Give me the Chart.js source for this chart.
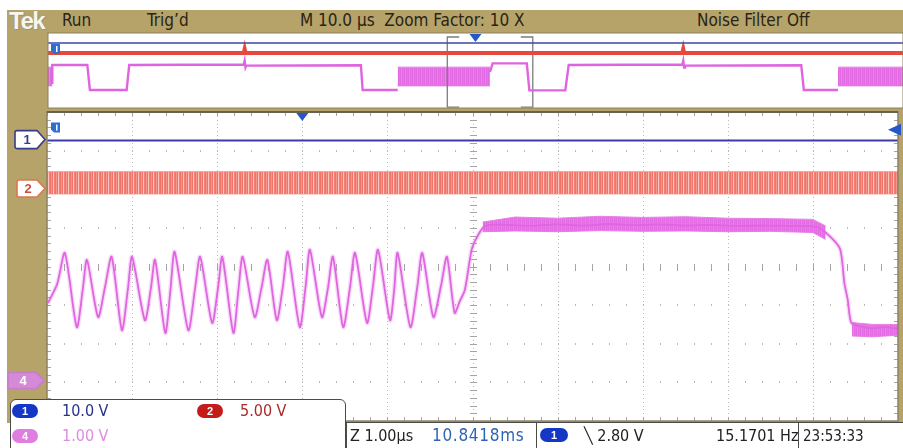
<!DOCTYPE html>
<html>
<head>
<meta charset="utf-8">
<script src="https://cdn.jsdelivr.net/npm/chart.js@4.4.0/dist/chart.umd.min.js"></script>
<style>
  html, body { margin: 0; padding: 0; background: #fff; }
  body { width: 903px; height: 448px; position: relative; overflow: hidden;
         font-family: "Liberation Sans Narrow", "DejaVu Sans Condensed", "Liberation Sans", sans-serif; }
  #frame { position: absolute; left: 7px; top: 10px; right: 0; height: 413px; background: #b5a36a; }
  canvas { position: absolute; left: 0; }
  #main { top: 100px; }
  #overview { top: 28px; }
  .t { position: absolute; white-space: nowrap; font-size: 17px; color: #2a2414; line-height: 1; }
  .f { position: absolute; white-space: nowrap; font-size: 16px; line-height: 1; }
  #tek { position: absolute; left: 9px; top: 7px; font: bold 24px "Liberation Sans", sans-serif;
         color: #f8f5ec; text-shadow: 0 0 1px #888, 1px 1px 0 #a1966e; letter-spacing: -1.5px; }
  .box { position: absolute; background: #fff; border: 1px solid #4a4a4a; box-sizing: border-box; }
  .pill { position: absolute; height: 14px; border-radius: 7px; color: #fff; font: bold 11px "Liberation Sans", sans-serif;
          line-height: 14px; text-align: center; }
</style>
</head>
<body>
<div id="frame"></div>
<div id="tek">Tek</div>
<div class="t" style="left:62px;top:12px">Run</div>
<div class="t" style="left:147px;top:12px">Trig’d</div>
<div class="t" style="left:300px;top:12px">M 10.0 µs&nbsp; Zoom Factor: 10 X</div>
<div class="t" style="left:697px;top:12px">Noise Filter Off</div>

<canvas id="main" width="903" height="325"></canvas>
<canvas id="overview" width="903" height="82"></canvas>

<div class="box" style="left:10px;top:399px;width:336px;height:55px;border-radius:6px 6px 0 0"></div>
<div class="pill" style="left:12px;top:404px;width:26px;background:#1437c6">1</div>
<div class="f" style="left:62px;top:403px;color:#27318a">10.0 V</div>
<div class="pill" style="left:197px;top:404px;width:26px;background:#c41b1b">2</div>
<div class="f" style="left:240px;top:403px;color:#a82a2a">5.00 V</div>
<div class="pill" style="left:12px;top:429px;width:26px;background:#e07de0">4</div>
<div class="f" style="left:62px;top:428px;color:#e08ae0">1.00 V</div>

<div class="box" style="left:346px;top:422px;width:191px;height:30px;border-right:none"></div>
<div class="f" style="left:350px;top:428px;color:#222">Z 1.00µs</div>
<div class="f" style="left:432px;top:427px;color:#2f63b5;font-size:17px;letter-spacing:0.7px">10.8418ms</div>
<div class="box" style="left:536px;top:422px;width:263px;height:30px;border-right:none"></div>
<div class="pill" style="left:540px;top:428px;width:28px;background:#1437c6">1</div>
<div class="f" style="left:584px;top:428px;color:#222">╲ 2.80 V</div>
<div class="f" style="left:716px;top:428px;color:#222">15.1701 Hz</div>
<div class="box" style="left:798px;top:422px;width:110px;height:30px"></div>
<div class="f" style="left:803px;top:429px;color:#222;font-size:15px">23:53:33</div>

<script>
// main window, in divisions (10 x 8)
const ch1Offset = 3.26;
const ch2Offset = 2.02;
const ch4Offset = -2.95;
const trigPos = 3;
const ch1VoltsDiv = 10.0;
const trigLevelV = 2.80;

const ch1X = [0, 10];
const ch1Y = [3.26, 3.26];

const ch2X = [0, 10];
const ch2Top = [2.45, 2.45];
const ch2Bottom = [1.88, 1.88];

const ch4X = [0.01, 0.12, 0.21, 0.35, 0.42, 0.47, 0.60, 0.68, 0.76, 0.88, 0.95, 1.00,
  1.15, 1.22, 1.27, 1.39, 1.45, 1.50, 1.66, 1.74, 1.80, 1.94, 2.01, 2.06, 2.19, 2.25, 2.30,
  2.44, 2.52, 2.59, 2.70, 2.77, 2.83, 2.97, 3.04, 3.09, 3.23, 3.30, 3.36, 3.48, 3.56, 3.62,
  3.76, 3.83, 3.89, 4.03, 4.08, 4.12, 4.27, 4.35, 4.41, 4.54, 4.63, 4.70, 4.79, 4.85, 4.91,
  4.99, 5.06, 5.15, 5.4, 5.7, 6.0, 6.3, 6.6, 6.9, 7.2, 7.5, 7.8, 8.1, 8.4, 8.7, 9.05, 9.20,
  9.32, 9.37, 9.41, 9.45, 9.55, 9.70, 9.85, 10];
const ch4Y = [-0.95, -0.45, 0.35, -1.57, -0.60, 0.17, -1.31, -0.55, 0.25, -1.65, -0.60, 0.25,
  -1.39, -0.58, 0.17, -1.72, -0.62, 0.38, -1.65, -0.57, 0.25, -1.46, -0.55, 0.25, -1.72, -0.60, 0.25,
  -1.31, -0.56, 0.17, -1.39, -0.55, 0.38, -1.57, -0.50, 0.43, -1.31, -0.58, 0.25, -1.57, -0.55, 0.35,
  -1.46, -0.52, 0.43, -1.39, -0.60, 0.35, -1.57, -0.55, 0.35, -1.31, -0.50, 0.25, -1.20, -0.90, -0.61,
  0.43, 0.79, 1.05, 1.08, 1.05, 1.09, 1.06, 1.10, 1.07, 1.09, 1.06, 1.08, 1.05, 1.06, 1.05, 1.02, 0.78,
  0.45, -0.43, -0.87, -1.45, -1.55, -1.60, -1.57, -1.62];

const plateauX = [5.12, 5.5, 6.0, 6.5, 7.0, 7.5, 8.0, 8.5, 9.0, 9.15];
const plateauTop = [1.15, 1.28, 1.25, 1.30, 1.27, 1.29, 1.25, 1.24, 1.22, 1.05];
const plateauBottom = [0.90, 0.92, 0.90, 0.93, 0.91, 0.92, 0.90, 0.91, 0.88, 0.70];

const lowX = [9.46, 9.7, 10];
const lowTop = [-1.45, -1.50, -1.50];
const lowBottom = [-1.80, -1.82, -1.78];

// overview strip (x 0..10, y 0..10)
const ovMagX = [0.05, 0.05, 0.46, 0.49, 0.92, 0.95, 2.29, 2.30, 2.31, 2.32, 3.66, 3.68, 4.09,
  4.60, 5.17, 5.20, 5.60, 5.63, 6.05, 6.09, 7.42, 7.43, 7.44, 7.45, 8.81, 8.84, 9.24];
const ovMagY = [3.2, 5.73, 5.73, 2.40, 2.40, 5.73, 5.80, 6.30, 5.40, 5.65, 5.70, 2.40, 2.40,
  null, 4.8, 5.95, 5.95, 2.35, 2.35, 5.73, 5.80, 6.30, 5.40, 5.65, 5.70, 2.40, 2.40];
const ovNoiseStart = [0, 4.09, 9.24];
const ovNoiseEnd = [0.05, 5.17, 10];
const ovNoiseTop = 5.45;
const ovNoiseBottom = 2.95;
const ovRedX = [0, 2.29, 2.30, 2.31, 7.42, 7.43, 7.44, 10];
const ovRedY = [7.33, 7.33, 7.85, 7.33, 7.33, 7.85, 7.33, 7.33];
const ovBlueX = [0, 10];
const ovBlueY = [8.67, 8.67];
const zoomBoxX = [4.67, 5.67];
const zoomBoxY = [0.13, 9.47];
const ovTrigPos = 5;

function pts(xs, ys) { return xs.map((x, i) => ({ x: x, y: ys[i] })); }

function stripes(colors) {
  const c = document.createElement('canvas');
  c.width = colors.length; c.height = 1;
  const g = c.getContext('2d');
  colors.forEach((col, i) => { g.fillStyle = col; g.fillRect(i, 0, 1, 1); });
  return g.createPattern(c, 'repeat');
}
const ch2Pattern = stripes(['#f07468', '#f5968d', '#f07468', '#fbc4be', '#f28076']);
const noisePattern = stripes(['#e26ae2', '#e884e8', '#e26ae2', '#e577e5']);

function line(data, color, width, extra) {
  return Object.assign({ data: data, borderColor: color, borderWidth: width, pointRadius: 0,
    fill: false, spanGaps: false, tension: 0 }, extra || {});
}

function tag(ctx, x0, x1, yc, h, fill, stroke, label, textColor) {
  ctx.beginPath();
  ctx.moveTo(x0 + 2, yc - h / 2);
  ctx.lineTo(x1 - 8, yc - h / 2);
  ctx.lineTo(x1, yc);
  ctx.lineTo(x1 - 8, yc + h / 2);
  ctx.lineTo(x0 + 2, yc + h / 2);
  ctx.quadraticCurveTo(x0, yc + h / 2, x0, yc + h / 2 - 2);
  ctx.lineTo(x0, yc - h / 2 + 2);
  ctx.quadraticCurveTo(x0, yc - h / 2, x0 + 2, yc - h / 2);
  ctx.closePath();
  ctx.fillStyle = fill; ctx.fill();
  ctx.lineWidth = 1.6; ctx.strokeStyle = stroke; ctx.stroke();
  ctx.fillStyle = textColor;
  ctx.font = 'bold 13px "Liberation Sans", sans-serif';
  ctx.textAlign = 'center'; ctx.textBaseline = 'middle';
  ctx.fillText(label, (x0 + x1 - 6) / 2, yc + 1);
}

function flag(ctx, px, py) {
  ctx.fillStyle = '#2f6fd0';
  ctx.beginPath();
  ctx.moveTo(px, py); ctx.lineTo(px + 9, py); ctx.lineTo(px + 9, py + 10); ctx.lineTo(px + 3, py + 10);
  ctx.lineTo(px, py + 7); ctx.closePath(); ctx.fill();
  ctx.fillStyle = '#fff';
  ctx.fillRect(px + 5, py + 2, 1.5, 6);
}

const screenPlugin = {
  id: 'screen',
  beforeDraw(chart) {
    const { ctx, chartArea: a, scales: { x, y } } = chart;
    ctx.save();
    ctx.fillStyle = '#fff';
    ctx.fillRect(a.left, a.top, a.right - a.left, a.bottom - a.top);
    ctx.fillStyle = '#b9b9b9';
    for (let i = 1; i < 10; i++) {
      const px = Math.round(x.getPixelForValue(i));
      for (let k = 0; k <= 80; k++) {
        ctx.fillRect(px, Math.round(y.getPixelForValue(-4 + k * 0.1)), 1, 1);
      }
    }
    for (let j = -3; j <= 3; j++) {
      const py = Math.round(y.getPixelForValue(j));
      for (let k = 0; k <= 50; k++) {
        ctx.fillRect(Math.round(x.getPixelForValue(k * 0.2)), py - 1, 1, 2);
      }
    }
    ctx.fillStyle = '#a4a4a4';
    const cx = Math.round(x.getPixelForValue(5)), cy = Math.round(y.getPixelForValue(0));
    for (let k = 0; k <= 40; k++) {
      const py = Math.round(y.getPixelForValue(-4 + k * 0.2));
      ctx.fillRect(cx - 3, py, 7, 1);
      ctx.fillRect(a.left, py, 4, 1);
      ctx.fillRect(a.right - 4, py, 4, 1);
    }
    for (let k = 0; k <= 50; k++) {
      const px = Math.round(x.getPixelForValue(k * 0.2));
      ctx.fillRect(px, cy - 3, 1, 7);
      ctx.fillRect(px, a.top, 1, 4);
      ctx.fillRect(px, a.bottom - 4, 1, 4);
    }
    ctx.restore();
  },
  afterDraw(chart) {
    const { ctx, chartArea: a, scales: { x, y } } = chart;
    ctx.save();
    ctx.strokeStyle = '#8d8262'; ctx.lineWidth = 1.5;
    ctx.strokeRect(a.left, a.top, a.right - a.left, a.bottom - a.top);
    ctx.strokeStyle = '#676151'; ctx.lineWidth = 2;
    ctx.beginPath(); ctx.moveTo(a.left, a.top); ctx.lineTo(a.right, a.top); ctx.stroke();

    // trigger position
    const tx = x.getPixelForValue(trigPos);
    ctx.fillStyle = '#2458c8';
    ctx.beginPath(); ctx.moveTo(tx - 6, a.top + 1); ctx.lineTo(tx + 6, a.top + 1); ctx.lineTo(tx, a.top + 9);
    ctx.closePath(); ctx.fill();

    // trigger level
    const ty = y.getPixelForValue(ch1Offset + trigLevelV / ch1VoltsDiv);
    ctx.beginPath(); ctx.moveTo(a.right - 10, ty); ctx.lineTo(a.right + 3, ty - 6); ctx.lineTo(a.right + 3, ty + 6);
    ctx.closePath(); ctx.fill();

    flag(ctx, a.left + 4, y.getPixelForValue(ch1Offset) - 18);

    tag(ctx, 15, 45, y.getPixelForValue(ch1Offset) - 1, 18, '#fff', '#383b8a', '1', '#383b8a');
    tag(ctx, 17, 45, y.getPixelForValue(ch2Offset), 17, '#fff', '#e2734f', '2', '#c8503e');
    tag(ctx, 8, 44, y.getPixelForValue(ch4Offset), 16, '#d58ad8', '#c97ccc', '4', '#fff');
    ctx.restore();
  }
};

const smooth = { tension: 0.25 };

new Chart(document.getElementById('main'), {
  type: 'line',
  data: {
    datasets: [
      line(pts(ch4X, ch4Y), '#de66de', 1.8, Object.assign({ order: 0 }, smooth)),
      line(pts(ch4X, ch4Y), 'rgba(232,122,232,0.28)', 4.5, Object.assign({ order: 1 }, smooth)),
      line(pts(plateauX, plateauTop), '#e682e6', 1, { order: 2, fill: '+1', backgroundColor: noisePattern }),
      line(pts(plateauX, plateauBottom), '#e682e6', 1, { order: 3 }),
      line(pts(lowX, lowTop), '#e682e6', 1, { order: 4, fill: '+1', backgroundColor: noisePattern }),
      line(pts(lowX, lowBottom), '#e682e6', 1, { order: 5 }),
      line(pts(ch2X, ch2Top), '#f38a80', 1, { order: 6, fill: '+1', backgroundColor: ch2Pattern }),
      line(pts(ch2X, ch2Bottom), '#f38a80', 1, { order: 7 }),
      line(pts(ch1X, ch1Y), '#3a3ca6', 2, { order: 8 })
    ]
  },
  options: {
    responsive: false, animation: false, events: [],
    layout: { padding: { left: 47, top: 12, right: 5, bottom: 4 } },
    plugins: { legend: { display: false }, tooltip: { enabled: false } },
    scales: {
      x: { type: 'linear', min: 0, max: 10, display: false },
      y: { type: 'linear', min: -4, max: 4, display: false }
    }
  },
  plugins: [screenPlugin]
});

const overviewPlugin = {
  id: 'overviewScreen',
  beforeDraw(chart) {
    const { ctx, chartArea: a } = chart;
    ctx.save();
    ctx.fillStyle = '#fff';
    ctx.fillRect(a.left, a.top, a.right - a.left, a.bottom - a.top);
    ctx.restore();
  },
  afterDraw(chart) {
    const { ctx, chartArea: a, scales: { x, y } } = chart;
    ctx.save();
    ctx.strokeStyle = '#8d8262'; ctx.lineWidth = 1;
    ctx.strokeRect(a.left, a.top, a.right - a.left, a.bottom - a.top);
    const tx = x.getPixelForValue(ovTrigPos);
    ctx.fillStyle = '#2458c8';
    ctx.beginPath(); ctx.moveTo(tx - 6, a.top + 1); ctx.lineTo(tx + 6, a.top + 1); ctx.lineTo(tx, a.top + 9);
    ctx.closePath(); ctx.fill();
    flag(ctx, a.left + 3, y.getPixelForValue(ovBlueY[0]) + 1);
    ctx.restore();
  }
};

const zx0 = zoomBoxX[0], zx1 = zoomBoxX[1], zy0 = zoomBoxY[0], zy1 = zoomBoxY[1];
const zoomBox = [
  { x: zx0 + 0.14, y: zy1 }, { x: zx0, y: zy1 }, { x: zx0, y: zy0 }, { x: zx0 + 0.14, y: zy0 },
  { x: zx0 + 0.5, y: null },
  { x: zx1 - 0.14, y: zy1 }, { x: zx1, y: zy1 }, { x: zx1, y: zy0 }, { x: zx1 - 0.14, y: zy0 }
];

const ovDatasets = [
  line(pts(ovMagX, ovMagY), '#e064e0', 2.4, { order: 0 }),
  line(pts(ovBlueX, ovBlueY), '#3a47a8', 1.6, { order: 1 }),
  line(pts(ovRedX, ovRedY), '#e8473b', 4, { order: 2 }),
  line(zoomBox, '#7c7c7c', 1.3, { order: 3 })
];
ovNoiseStart.forEach((s, i) => {
  ovDatasets.push(line(pts([s, ovNoiseEnd[i]], [ovNoiseTop, ovNoiseTop]), '#e680e6', 1,
    { order: 10 + i * 2, fill: '+1', backgroundColor: noisePattern }));
  ovDatasets.push(line(pts([s, ovNoiseEnd[i]], [ovNoiseBottom, ovNoiseBottom]), '#e680e6', 1,
    { order: 11 + i * 2 }));
});

new Chart(document.getElementById('overview'), {
  type: 'line',
  data: { datasets: ovDatasets },
  options: {
    responsive: false, animation: false, events: [],
    layout: { padding: { left: 48, top: 5, right: 0, bottom: 2 } },
    plugins: { legend: { display: false }, tooltip: { enabled: false } },
    scales: {
      x: { type: 'linear', min: 0, max: 10, display: false },
      y: { type: 'linear', min: 0, max: 10, display: false }
    }
  },
  plugins: [overviewPlugin]
});
</script>
</body>
</html>
